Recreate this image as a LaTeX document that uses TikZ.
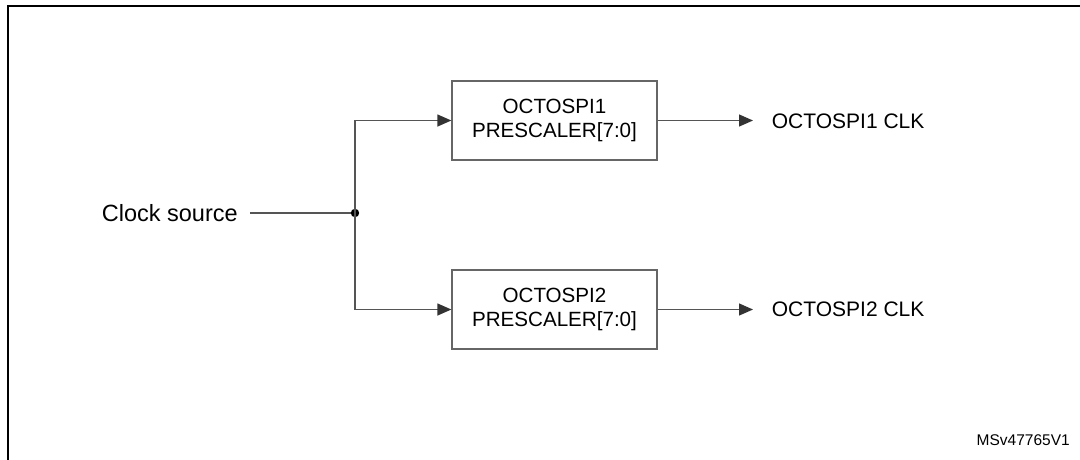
\documentclass[tikz,border=0pt]{standalone}
\usepackage{fontspec}
\setmainfont{Liberation Sans}
\usetikzlibrary{arrows.meta}
\definecolor{linegray}{HTML}{555555}
\definecolor{boxgray}{HTML}{666666}
\definecolor{tipgray}{HTML}{333333}
\tikzset{
  conn/.style={draw=linegray, line width=1.3pt},
  arr/.style={conn, -{Triangle[length=14pt,width=12pt,fill=tipgray,color=tipgray]}},
  prescbox/.style={draw=boxgray, line width=1.3pt, minimum width=205pt, minimum height=79pt,
    inner sep=0pt, align=center, font=\fontsize{20.6}{23.4}\selectfont},
  lbl/.style={inner sep=0pt, font=\fontsize{21}{24}\selectfont},
  frame/.style={draw=black, line width=2pt}
}
\begin{document}
\begin{tikzpicture}[x=1pt,y=-1pt]
\useasboundingbox (0,0) rectangle (1080,459);
% frame (open at right and bottom)
\draw[frame] (8,460) -- (8,6) -- (1081,6);
% clock source
\node[lbl, anchor=west, font=\fontsize{23.5}{26}\selectfont] (cs) at (101.7,213) {Clock source};
\coordinate (j) at (355,213);
\draw[conn] ([xshift=12pt]cs.east) -- (j);
\fill[black] (j) circle [radius=4.2pt];
% boxes
\node[prescbox] (b1) at (554.5,120.5) {OCTOSPI1\\PRESCALER[7:0]};
\node[prescbox] (b2) at (554.5,309.5) {OCTOSPI2\\PRESCALER[7:0]};
\coordinate (up) at (355,120.5);
\coordinate (dn) at (355,309.5);
\draw[arr] (j) -- (up) -- (b1.west);
\draw[arr] (j) -- (dn) -- (b2.west);
% outputs
\node[lbl, anchor=west] (o1) at (771.7,121) {OCTOSPI1 CLK};
\node[lbl, anchor=west] (o2) at (771.7,309.5) {OCTOSPI2 CLK};
\coordinate (t1) at (753,120.5);
\coordinate (t2) at (753,309.5);
\draw[arr] (b1.east) -- (t1);
\draw[arr] (b2.east) -- (t2);
% reference
\node[inner sep=0pt, anchor=east, font=\fontsize{15.5}{18}\selectfont] (ref) at (1070,440) {MSv47765V1};
\end{tikzpicture}
\end{document}
